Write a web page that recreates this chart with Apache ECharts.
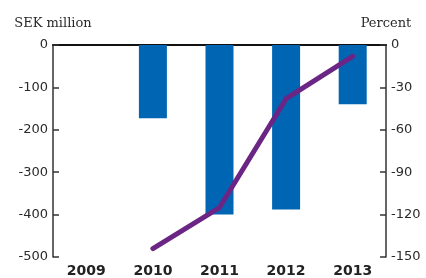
<!DOCTYPE html>
<html>
<head>
<meta charset="utf-8">
<script src="https://cdn.jsdelivr.net/npm/echarts@6/dist/echarts.min.js"></script>
<style>
  html, body { margin: 0; padding: 0; background: #fff; }
  #chart { width: 426px; height: 278px; }
</style>
</head>
<body>
<div id="chart"></div>
<script>
// data
var years = ['2009', '2010', '2011', '2012', '2013'];
var sekMillion = [null, -173, -400, -388, -140];
var percent = [null, -144, -115, -38, -8];

var chart = echarts.init(document.getElementById('chart'));

var labelFont = { fontFamily: 'DejaVu Sans', fontSize: 13, color: '#2a2a2a' };
var nameFont = { fontFamily: 'DejaVu Serif', fontSize: 13, color: '#2a2a2a', align: 'center' };

var option = {
  animation: false,
  grid: { left: 53, right: 40, top: 45, bottom: 19 },
  xAxis: [
    {
      type: 'category',
      data: years,
      position: 'bottom',
      axisLine: { show: false },
      axisTick: { show: false },
      axisLabel: {
        margin: 7,
        fontFamily: 'DejaVu Sans',
        fontWeight: 'bold',
        fontSize: 14,
        color: '#222'
      }
    },
    {
      // zero line along the top
      type: 'category',
      data: years,
      position: 'top',
      axisLine: { show: true, onZero: false, lineStyle: { color: '#111', width: 2 } },
      axisTick: { show: false },
      axisLabel: { show: false }
    }
  ],
  yAxis: [
    {
      type: 'value',
      min: -500,
      max: 0,
      interval: 100,
      name: 'SEK million',
      nameLocation: 'end',
      nameGap: 15,
      nameTextStyle: nameFont,
      axisLine: { show: true, lineStyle: { color: '#333', width: 1.5 } },
      axisTick: { show: true, inside: true, length: 6, lineStyle: { color: '#333', width: 1.5 } },
      axisLabel: Object.assign({ margin: 5 }, labelFont),
      splitLine: { show: false }
    },
    {
      type: 'value',
      min: -150,
      max: 0,
      interval: 30,
      position: 'right',
      name: 'Percent',
      nameLocation: 'end',
      nameGap: 15,
      nameTextStyle: nameFont,
      axisLine: { show: true, lineStyle: { color: '#333', width: 1.5 } },
      axisTick: { show: true, inside: true, length: 6, lineStyle: { color: '#333', width: 1.5 } },
      axisLabel: Object.assign({ margin: 5 }, labelFont),
      splitLine: { show: false }
    }
  ],
  series: [
    {
      name: 'SEK million',
      type: 'bar',
      data: sekMillion,
      barWidth: 28,
      itemStyle: { color: '#0066b3' }
    },
    {
      name: 'Percent',
      type: 'line',
      yAxisIndex: 1,
      data: percent,
      showSymbol: false,
      symbol: 'none',
      lineStyle: { color: '#6b2585', width: 5, cap: 'round', join: 'round' }
    }
  ]
};

chart.setOption(option);
</script>
</body>
</html>
